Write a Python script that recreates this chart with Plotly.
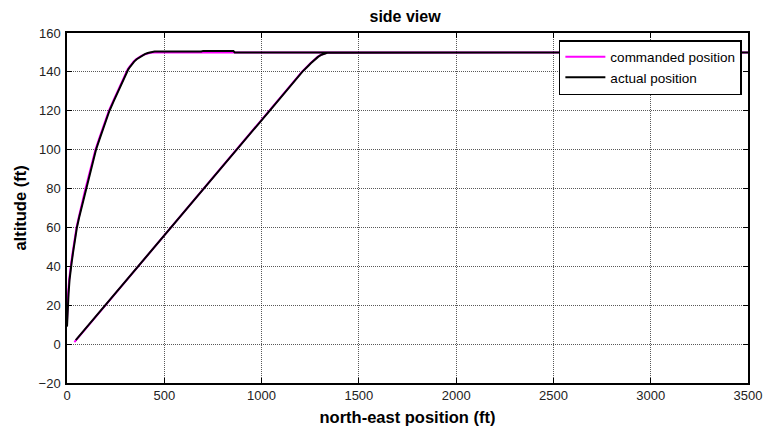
import plotly.graph_objects as go

# Commanded trajectory: steep climb, cruise out to 3500 ft, return along the
# cruise altitude, then the shallow descent back toward the origin.
cmd_x = [0, 1, 3, 6, 11, 16, 22, 29, 38, 49, 60, 71, 83, 95, 108, 120, 133, 146,
         163, 180, 197, 215, 237, 259, 281, 304, 312, 320, 331, 342, 355, 368,
         382, 397, 412, 428, 448, 3500,
         1354, 1341, 1328, 1315, 1302, 1288, 1275, 1263, 1251, 1240, 1229, 1218,
         1207, 1039, 871, 703, 535, 367, 199, 38]
cmd_y = [12, 15, 20, 26, 33, 38, 42, 47, 53, 60, 65, 70, 75, 80, 85, 90, 95, 100,
         105, 110, 115, 120, 125, 130, 135, 140, 141.3, 142.5, 144, 145.3, 146.5, 147.4,
         148.2, 148.9, 149.4, 149.8, 150, 150,
         150, 149.9, 149.6, 149.2, 148.6, 147.7, 146.7, 145.6, 144.4, 143.3, 142.2, 141.1,
         140, 120, 100, 80, 60, 40, 20, 1]

# Actual (flown) trajectory
act_x = [0, 2, 4, 8, 13, 18, 24, 31, 40, 51, 62, 74, 86, 98, 111, 123, 136, 149,
         166, 183, 200, 218, 240, 262, 284, 307, 315, 323, 334, 345, 358, 371,
         385, 400, 415, 431, 450, 690, 700, 855, 862, 3500,
         1356, 1343, 1330, 1317, 1304, 1290, 1277, 1265, 1253, 1242, 1231, 1220,
         1209, 1041, 873, 705, 537, 369, 201, 45]
act_y = [9, 15, 20, 26, 33, 38, 42, 47, 53, 60, 65, 70, 75, 80, 85, 90, 95, 100,
         105, 110, 115, 120, 125, 130, 135, 140, 141.3, 142.5, 144, 145.3, 146.5, 147.4,
         148.3, 149.1, 149.7, 150.2, 150.5, 150.5, 150.8, 150.8, 150, 150,
         150, 149.9, 149.6, 149.2, 148.6, 147.7, 146.7, 145.6, 144.4, 143.3, 142.2, 141.1,
         140, 120, 100, 80, 60, 40, 20, 2]

x_ticks = [0, 500, 1000, 1500, 2000, 2500, 3000, 3500]
y_ticks = [-20, 0, 20, 40, 60, 80, 100, 120, 140, 160]

FONT = "Liberation Sans, Arial, sans-serif"

fig = go.Figure()
fig.add_trace(go.Scatter(x=cmd_x, y=cmd_y, mode="lines", name="commanded position",
                         line=dict(color="#FF00FF", width=2)))
fig.add_trace(go.Scatter(x=act_x, y=act_y, mode="lines", name="actual position",
                         line=dict(color="#000000", width=2)))

axis_common = dict(
    showline=True, linecolor="black", linewidth=1.5, mirror="allticks",
    ticks="inside", ticklen=5, tickcolor="black", tickwidth=1,
    showgrid=True, gridcolor="rgba(0,0,0,0.65)", griddash="1px,1px", gridwidth=1,
    zeroline=False, automargin=False,
    tickfont=dict(family=FONT, size=13, color="#222"),
)

fig.update_layout(
    width=765, height=432,
    margin=dict(l=67, r=17, t=33, b=49),
    paper_bgcolor="white", plot_bgcolor="white",
    title=dict(text="<b>side view</b>", x=0.5295, xanchor="center", y=0.963, yanchor="middle",
               font=dict(family=FONT, size=16, color="black")),
    xaxis=dict(range=[0, 3500], tickvals=x_ticks,
               title=dict(text="<b>north-east position (ft)</b>", standoff=9,
                          font=dict(family=FONT, size=16.5, color="black")),
               **axis_common),
    yaxis=dict(range=[-20, 160], tickvals=y_ticks, ticklabelstandoff=2,
               title=dict(text="<b>altitude (ft)</b>", standoff=8,
                          font=dict(family=FONT, size=16.5, color="black")),
               **axis_common),
    legend=dict(x=0.991, xanchor="right", y=0.98, yanchor="top",
                bordercolor="black", borderwidth=1.5, bgcolor="white",
                font=dict(family=FONT, size=13.5, color="black"),
                tracegroupgap=0, itemwidth=40),
    showlegend=True,
)

fig.write_html("out.html")
